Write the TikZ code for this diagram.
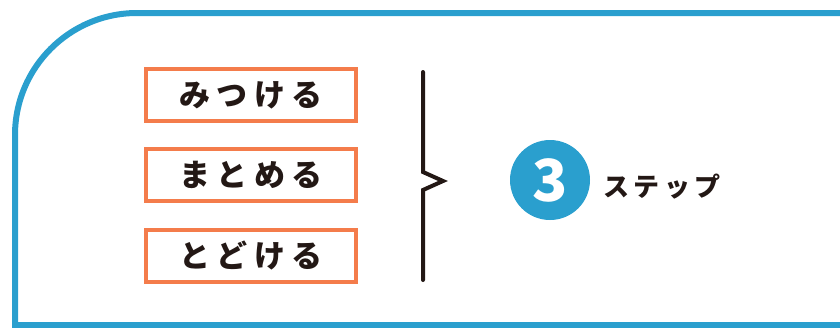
\documentclass[tikz,border=0pt]{standalone}
\usepackage{fontspec}
\newfontfamily\jp{Noto Sans CJK JP}
\definecolor{frameblue}{HTML}{2A9FCE}
\definecolor{boxorange}{HTML}{F47C4B}
\definecolor{ink}{HTML}{231815}
\tikzset{
  stepbox/.style={draw=boxorange, line width=4pt, minimum width=210pt, minimum height=52pt, inner sep=0pt,
    font=\jp\bfseries\fontsize{31}{31}\selectfont\addfontfeatures{LetterSpace=20}, text=ink},
}
\begin{document}
\begin{tikzpicture}[x=1pt,y=-1pt]
\useasboundingbox (0,0) rectangle (840,327);
\begin{scope}
\clip (0,0) rectangle (840,327);
\draw[frameblue, line width=6pt] (850,13) -- (137,13) arc[start angle=270, end angle=180, radius=122] -- (15,325) -- (850,325);
\end{scope}
\node[stepbox] (b1) at (251,95) {みつける};
\node[stepbox] (b2) at (251,175) {まとめる};
\node[stepbox] (b3) at (251,255.5) {とどける};
\coordinate (btop) at (423,72);
\coordinate (bbot) at (423,280);
\coordinate (tip) at (443,181);
\draw[ink, line width=4pt, line cap=round, line join=miter] (btop) -- (423,172) -- (tip) -- (423,190) -- (bbot);
\node[circle, fill=frameblue, minimum size=80pt, inner sep=0pt, text=white, font=\jp\bfseries\fontsize{58}{58}\selectfont] (num) at (550,180) {3};
\node[anchor=west, text=ink, inner sep=0pt, font=\jp\bfseries\fontsize{26}{26}\selectfont\addfontfeatures{LetterSpace=17}] (lbl) at (603,187) {ステップ};
\end{tikzpicture}
\end{document}
